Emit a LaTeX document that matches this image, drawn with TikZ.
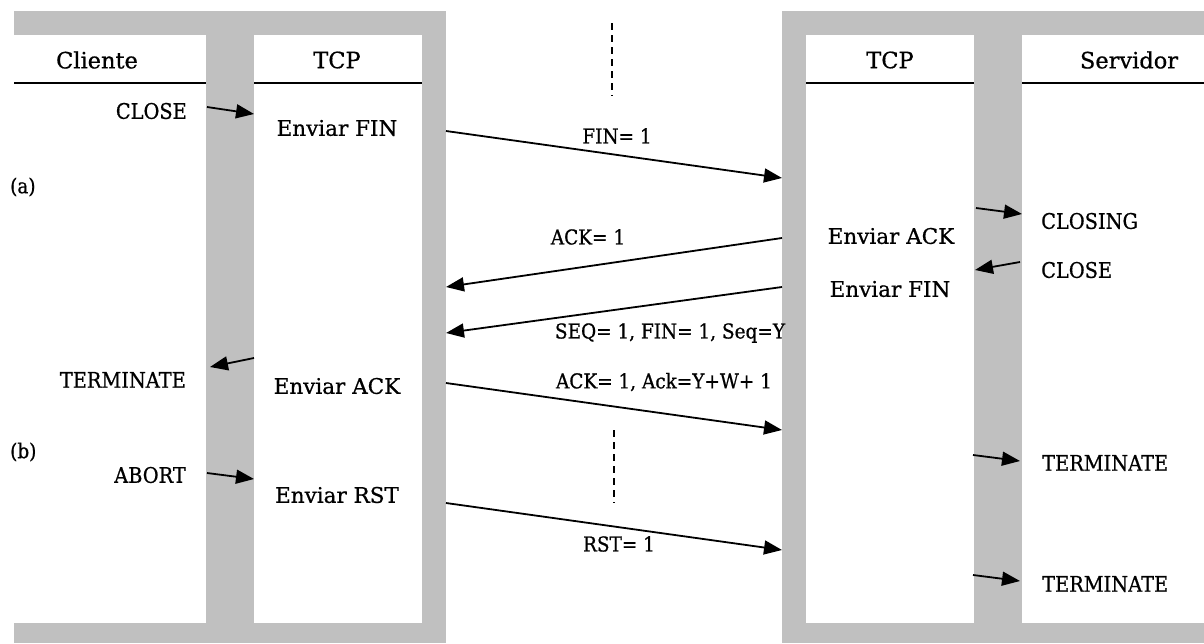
\documentclass[tikz,border=0pt]{standalone}
\usepackage{fontspec}
\setmainfont{DejaVu Serif}[FakeBold=0.7]
\newfontfamily\narrowfont{DejaVu Serif}[FakeBold=0.7,FakeStretch=0.9]
\usetikzlibrary{arrows.meta}
\definecolor{panelgray}{RGB}{192,192,192}
\tikzset{
  msg/.style={line width=1.8pt,-{Triangle[length=18pt,width=14pt]}},
  hdr/.style={font=\fontsize{22.5}{26}\selectfont,inner sep=0pt},
  act/.style={font=\fontsize{21.5}{25}\selectfont,inner sep=0pt},
  evt/.style={font=\narrowfont\fontsize{21.5}{25}\selectfont,inner sep=0pt},
  lbl/.style={font=\narrowfont\fontsize{20.5}{24}\selectfont,inner sep=0pt},
  sep/.style={line width=1.5pt,dash pattern=on 7pt off 5pt},
  hline/.style={line width=1.6pt}
}
\begin{document}
\begin{tikzpicture}[x=1pt,y=-1pt]
\useasboundingbox (0,0) rectangle (1204,643);
% gray frames
\fill[panelgray] (14,11) rectangle (446,643);
\fill[panelgray] (782,11) rectangle (1204,643);
% white panels
\fill[white] (14,35) rectangle (206,623);
\fill[white] (254,35) rectangle (422,623);
\fill[white] (806,35) rectangle (974,623);
\fill[white] (1022,35) rectangle (1204,623);
% header lines
\draw[hline] (14,83) -- (206,83);
\draw[hline] (254,83) -- (422,83);
\draw[hline] (806,83) -- (974,83);
\draw[hline] (1022,83) -- (1204,83);
% headers
\node[hdr] (cli) at (97,60) {Cliente};
\node[hdr] (tcpl) at (337,60) {TCP};
\node[hdr] (tcpr) at (890,60) {TCP};
\node[hdr] (srv) at (1129,60) {Servidor};
% dashed separators
\coordinate (d1a) at (612,23); \coordinate (d1b) at (612,96);
\coordinate (d2a) at (614,430); \coordinate (d2b) at (614,503);
\draw[sep] (d1a) -- (d1b);
\draw[sep] (d2a) -- (d2b);
% side labels
\node[lbl,anchor=west] (a) at (10,187) {(a)};
\node[lbl,anchor=west] (b) at (10,452) {(b)};
% client events
\node[evt,anchor=east] (close1) at (187,111) {CLOSE};
\node[evt,anchor=east] (term1) at (186,380) {TERMINATE};
\node[evt,anchor=east] (abort) at (186,475) {ABORT};
% client TCP actions
\node[act] (finl) at (337,128) {Enviar FIN};
\node[act] (ackl) at (337,386) {Enviar ACK};
\node[act] (rstl) at (337,495) {Enviar RST};
% server TCP actions
\node[act] (ackr) at (891,236) {Enviar ACK};
\node[act] (finr) at (890,289) {Enviar FIN};
% server events
\node[evt,anchor=west] (closing) at (1041,221) {CLOSING};
\node[evt,anchor=west] (close2) at (1041,270) {CLOSE};
\node[evt,anchor=west] (term2) at (1042,463) {TERMINATE};
\node[evt,anchor=west] (term3) at (1042,584) {TERMINATE};
% message labels
\node[lbl] (lfin) at (617,136) {FIN= 1};
\node[lbl] (lack) at (588,237) {ACK= 1};
\node[lbl] (lseq) at (670,333) {SEQ= 1, FIN= 1, Seq=Y};
\node[lbl] (lack2) at (664,382) {ACK= 1, Ack=Y+W+ 1};
\node[lbl] (lrst) at (619,544) {RST= 1};
% arrow endpoints
\coordinate (c1s) at (207,107); \coordinate (c1e) at (254,114);
\coordinate (m1s) at (446,131); \coordinate (m1e) at (782,178);
\coordinate (m2s) at (782,238); \coordinate (m2e) at (446,287);
\coordinate (m3s) at (782,287); \coordinate (m3e) at (446,333);
\coordinate (m4s) at (446,383); \coordinate (m4e) at (782,430);
\coordinate (m5s) at (446,503); \coordinate (m5e) at (782,550);
\coordinate (t1s) at (254,358); \coordinate (t1e) at (210,367);
\coordinate (abs) at (207,473); \coordinate (abe) at (254,479);
\coordinate (cgs) at (976,208); \coordinate (cge) at (1022,214);
\coordinate (c2s) at (1020,262); \coordinate (c2e) at (975,270);
\coordinate (t2s) at (973,455); \coordinate (t2e) at (1020,461);
\coordinate (t3s) at (973,575); \coordinate (t3e) at (1020,581);
% arrows
\draw[msg] (c1s) -- (c1e);
\draw[msg] (m1s) -- (m1e);
\draw[msg] (m2s) -- (m2e);
\draw[msg] (m3s) -- (m3e);
\draw[msg] (m4s) -- (m4e);
\draw[msg] (m5s) -- (m5e);
\draw[msg] (t1s) -- (t1e);
\draw[msg] (abs) -- (abe);
\draw[msg] (cgs) -- (cge);
\draw[msg] (c2s) -- (c2e);
\draw[msg] (t2s) -- (t2e);
\draw[msg] (t3s) -- (t3e);
\end{tikzpicture}
\end{document}
